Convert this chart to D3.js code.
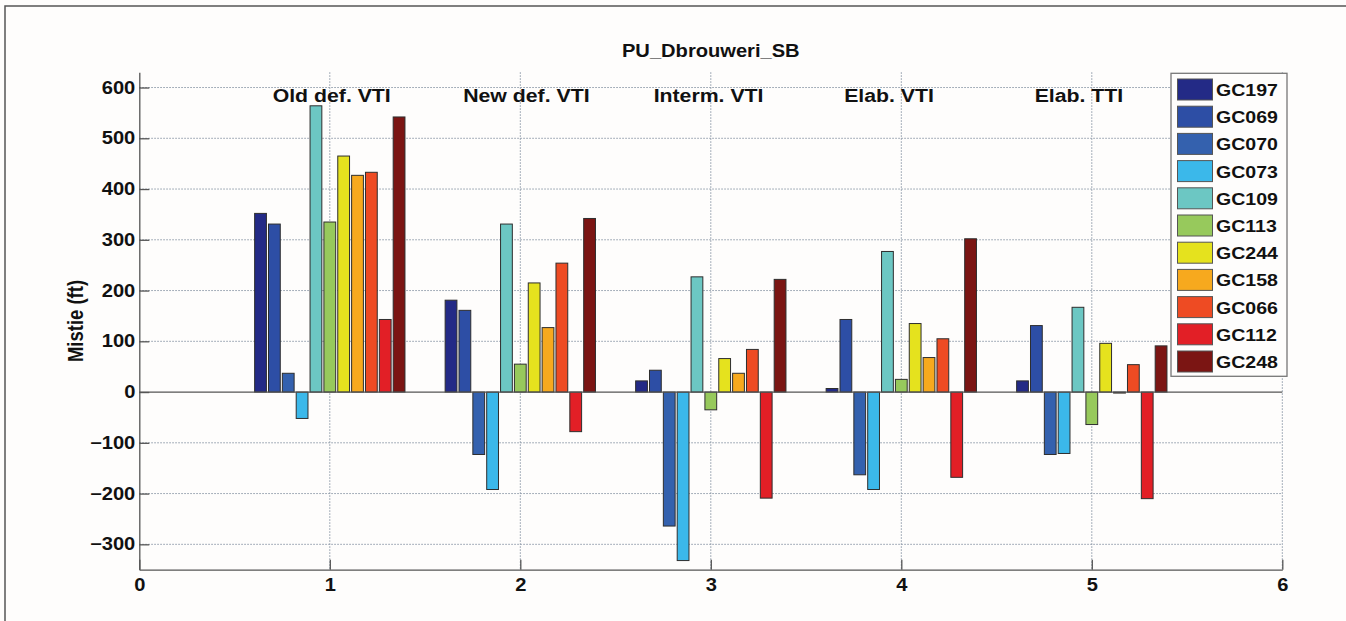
<!DOCTYPE html>
<html>
<head>
<meta charset="utf-8">
<script src="https://cdn.jsdelivr.net/npm/d3@7"></script>
<style>
  html, body { margin: 0; padding: 0; background: #fefdfc; }
  svg { display: block; }
  text { font-family: "Liberation Sans", Arial, Helvetica, sans-serif; font-weight: bold; fill: #111; }
</style>
</head>
<body>
<svg id="chart" width="1346" height="621"></svg>
<script>
// Well names (one bar per well in each group)
const wells = ["GC197", "GC069", "GC070", "GC073", "GC109", "GC113", "GC244", "GC158", "GC066", "GC112", "GC248"];
const wellColors = ["#232a86", "#2d4ea5", "#3461ae", "#3bb8ea", "#6cc7c3", "#97c95c", "#e5e21e", "#f7a91e", "#ee4b23", "#e21f26", "#7b1513"];

// Velocity model cases, placed at x = 1..5
const models = ["Old def. VTI", "New def. VTI", "Interm. VTI", "Elab. VTI", "Elab. TTI"];

// Mistie (ft) per well, one array per model
const oldDefVTI = [352, 331, 37, -52, 564, 335, 465, 427, 433, 143, 542];
const newDefVTI = [181, 161, -123, -192, 331, 55, 215, 127, 254, -78, 342];
const intermVTI = [22, 43, -264, -332, 227, -35, 66, 37, 84, -209, 222];
const elabVTI = [7, 143, -163, -192, 277, 25, 135, 68, 105, -168, 302];
const elabTTI = [22, 131, -123, -121, 167, -64, 96, -2, 54, -210, 91];
const misties = [oldDefVTI, newDefVTI, intermVTI, elabVTI, elabTTI];

const xTicks = [0, 1, 2, 3, 4, 5, 6];
const yTicks = [-300, -200, -100, 0, 100, 200, 300, 400, 500, 600];

const chartTitle = "PU_Dbrouweri_SB";
const yTitle = "Mistie (ft)";

const svg = d3.select("#chart");
const W = 1346, H = 621;
const SX = 1.15; // horizontal glyph stretch

const plot = { left: 139.3, right: 1282.3, top: 72.3, bottom: 569.7 };
const x = d3.scaleLinear().domain([0, 6]).range([plot.left, plot.right]);
const y = d3.scaleLinear().domain([-350, 630]).range([plot.bottom, plot.top]);

// Figure frame (left and top edges)
svg.append("path")
  .attr("d", `M5,${H} L5,6 L${W},6`)
  .attr("fill", "none").attr("stroke", "#555").attr("stroke-width", 1.5);

// Grid
const grid = svg.append("g").attr("stroke", "#8a97a6").attr("stroke-width", 1).attr("stroke-dasharray", "1.5,1.5");
yTicks.filter(v => v !== 0).forEach(v => {
  grid.append("line").attr("x1", plot.left).attr("x2", plot.right).attr("y1", y(v)).attr("y2", y(v));
});
xTicks.filter(v => v !== 0).forEach(v => {
  grid.append("line").attr("x1", x(v)).attr("x2", x(v)).attr("y1", plot.top).attr("y2", plot.bottom);
});

// Grouped bars
const groupWidth = 0.8;
const slot = groupWidth / wells.length;
const barW = slot * 0.85;
const bars = svg.append("g");
misties.forEach((vals, gi) => {
  const center = gi + 1;
  vals.forEach((v, wi) => {
    const cx = center - groupWidth / 2 + (wi + 0.5) * slot;
    const x0 = x(cx - barW / 2), x1 = x(cx + barW / 2);
    const y0 = y(Math.max(v, 0)), y1 = y(Math.min(v, 0));
    bars.append("rect")
      .attr("x", x0).attr("y", y0)
      .attr("width", x1 - x0).attr("height", Math.max(y1 - y0, 1))
      .attr("fill", wellColors[wi])
      .attr("stroke", "#2e2e2e").attr("stroke-width", 1);
  });
});

// Baseline at zero
svg.append("line")
  .attr("x1", plot.left).attr("x2", plot.right)
  .attr("y1", y(0)).attr("y2", y(0))
  .attr("stroke", "#555").attr("stroke-width", 1.2);

// Axes with inward ticks
const yAxis = svg.append("g")
  .attr("transform", `translate(${plot.left},0)`)
  .call(d3.axisLeft(y).tickValues(yTicks).tickFormat(d3.format("d")).tickSizeInner(-10).tickSizeOuter(0).tickPadding(4));
const xAxis = svg.append("g")
  .attr("transform", `translate(0,${plot.bottom})`)
  .call(d3.axisBottom(x).tickValues(xTicks).tickFormat(d3.format("d")).tickSizeInner(-10).tickSizeOuter(0).tickPadding(8));

[yAxis, xAxis].forEach(ax => {
  ax.attr("font-family", null).attr("font-size", null);
  ax.select(".domain").attr("stroke", "#555").attr("stroke-width", 1.3);
  ax.selectAll(".tick line").attr("stroke", "#555").attr("stroke-width", 1.3);
  ax.selectAll(".tick text")
    .attr("font-size", 17.5)
    .attr("fill", "#111");
});
yAxis.selectAll(".tick text").attr("transform", `scale(${SX},1)`).attr("x", -4 / SX);
xAxis.selectAll(".tick text").attr("transform", `scale(${SX},1)`).attr("dy", "0.72em").attr("y", 9);

// Stretched text helper
function label(g, str, px, py, size, anchor, rot) {
  return g.append("text")
    .attr("transform", `translate(${px},${py}) scale(${SX},1)` + (rot ? ` rotate(${rot})` : ""))
    .attr("text-anchor", anchor)
    .attr("font-size", size)
    .text(str);
}

// Title and axis label
label(svg, chartTitle, x(3), 56.5, 17.5, "middle");
label(svg, yTitle, 83, (plot.top + plot.bottom) / 2, 18.5, "middle", -90);

// Model names above each group
models.forEach((m, i) => {
  label(svg, m, x(i + 1 - 0.3), y(571), 18.5, "start");
});

// Legend
const lg = svg.append("g");
const lgX = 1171, lgY = 73.3, lgW = 116, lgH = 303;
lg.append("rect").attr("x", lgX).attr("y", lgY).attr("width", lgW).attr("height", lgH)
  .attr("fill", "#fefdfc").attr("stroke", "#777").attr("stroke-width", 1.3);
wells.forEach((w, i) => {
  const top = 79 + i * 27.2;
  lg.append("rect").attr("x", 1177.5).attr("y", top).attr("width", 35).attr("height", 21)
    .attr("fill", wellColors[i]).attr("stroke", "#555").attr("stroke-width", 1);
  label(lg, w, 1216, top + 17, 17, "start");
});
</script>
</body>
</html>
